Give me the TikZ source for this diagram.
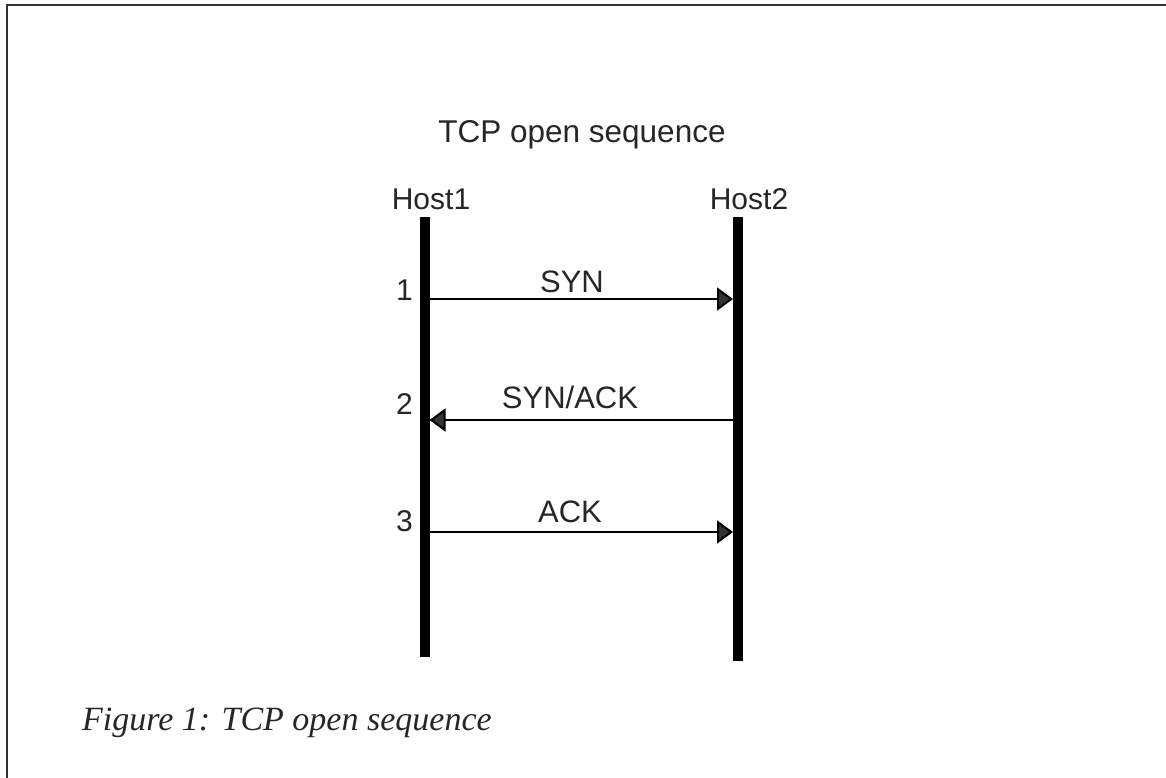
\documentclass[tikz,border=0pt]{standalone}
\usepackage{fontspec}
\setmainfont{Liberation Serif}
\newfontfamily\arialf{Liberation Sans}
\usetikzlibrary{arrows.meta}
\begin{document}
\begin{tikzpicture}[x=1pt,y=-1pt,
  lbl/.style={inner sep=0pt,anchor=base,font=\arialf\fontsize{30}{36}\selectfont,text=black!85},
  biglbl/.style={lbl,font=\arialf\fontsize{31.5}{38}\selectfont},
  msglbl/.style={lbl,font=\arialf\fontsize{31}{37}\selectfont},
  numlbl/.style={lbl,anchor=base east},
  lifeline/.style={line width=10pt,black},
  msg/.style={line width=2pt,black,-{Triangle[length=16pt,width=23pt,fill=black!80]}},
  frame/.style={line width=2pt,black!80}]
\useasboundingbox (0,0) rectangle (1166,778);
% frame (top and left edges)
\coordinate (ftl) at (7,5);
\coordinate (ftr) at (1166,5);
\coordinate (fbl) at (7,778);
\draw[frame] (fbl) -- (ftl) -- (ftr);
% title
\node[biglbl] (title) at (582,143) {TCP open sequence};
% hosts
\node[lbl] (host1) at (431,209) {Host1};
\node[lbl] (host2) at (749,209) {Host2};
% lifelines
\coordinate (h1t) at (424.5,217);
\coordinate (h1b) at (424.5,657);
\coordinate (h2t) at (738,217);
\coordinate (h2b) at (738,661);
\draw[lifeline] (h1t) -- (h1b);
\draw[lifeline] (h2t) -- (h2b);
% message endpoints
\coordinate (m1a) at (429.5,299);
\coordinate (m1b) at (733,299);
\coordinate (m2a) at (733,420);
\coordinate (m2b) at (429.5,420);
\coordinate (m3a) at (429.5,532);
\coordinate (m3b) at (733,532);
\draw[msg] (m1a) -- (m1b);
\draw[msg] (m2a) -- (m2b);
\draw[msg] (m3a) -- (m3b);
% message labels
\node[msglbl] (l1) at (572,292) {SYN};
\node[msglbl] (l2) at (570,408) {SYN/ACK};
\node[msglbl] (l3) at (570,522) {ACK};
% step numbers
\node[numlbl] (n1) at (413,300) {1};
\node[numlbl] (n2) at (413,414) {2};
\node[numlbl] (n3) at (413,531) {3};
% caption
\node[inner sep=0pt,anchor=base west,font=\fontsize{34}{41}\selectfont\itshape,text=black!85] (cap) at (82,730) {Figure 1: TCP open sequence};
\end{tikzpicture}
\end{document}
